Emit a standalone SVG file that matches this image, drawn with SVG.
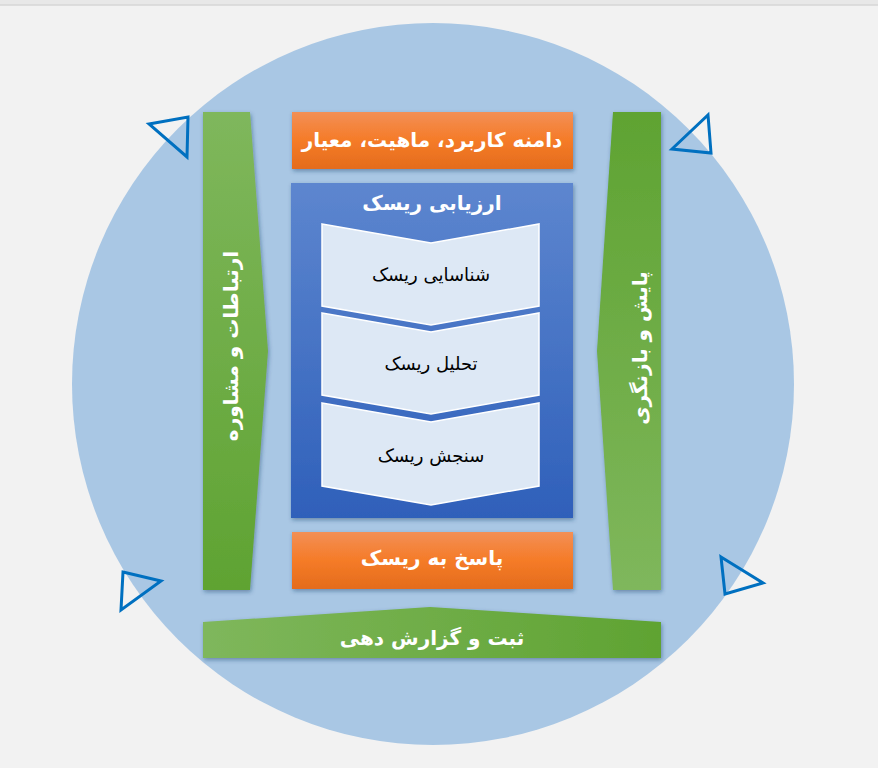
<svg xmlns="http://www.w3.org/2000/svg" width="878" height="768" viewBox="0 0 878 768">
  <defs>
    <linearGradient id="gOrange" x1="0" y1="0" x2="0" y2="1">
      <stop offset="0" stop-color="#f38f55"/>
      <stop offset="0.5" stop-color="#f57b28"/>
      <stop offset="1" stop-color="#e46c1b"/>
    </linearGradient>
    <linearGradient id="gBlue" x1="0" y1="0" x2="0" y2="1">
      <stop offset="0" stop-color="#5d86cf"/>
      <stop offset="1" stop-color="#2f60ba"/>
    </linearGradient>
    <linearGradient id="gGreenDown" x1="0" y1="0" x2="0" y2="1">
      <stop offset="0" stop-color="#7fb75c"/>
      <stop offset="1" stop-color="#5fa332"/>
    </linearGradient>
    <linearGradient id="gGreenUp" x1="0" y1="1" x2="0" y2="0">
      <stop offset="0" stop-color="#7fb75c"/>
      <stop offset="1" stop-color="#5fa332"/>
    </linearGradient>
    <linearGradient id="gGreenRight" x1="0" y1="0" x2="1" y2="0">
      <stop offset="0" stop-color="#7fb75c"/>
      <stop offset="1" stop-color="#5fa332"/>
    </linearGradient>
    <filter id="shadow" x="-20%" y="-20%" width="140%" height="140%">
      <feDropShadow dx="1" dy="2" stdDeviation="2" flood-color="#1f3c66" flood-opacity="0.45"/>
    </filter>
  </defs>
  <style>
    .tw { font-family: "DejaVu Sans", sans-serif; font-weight: bold; fill: #ffffff; text-anchor: middle; dominant-baseline: central; font-size: 20px; }
    .tb { font-family: "DejaVu Sans", sans-serif; fill: #000000; text-anchor: middle; dominant-baseline: central; font-size: 18px; }
    .chev { fill: #dde8f5; stroke: #ffffff; stroke-width: 1.5; }
    .tri { fill: none; stroke: #0070c0; stroke-width: 3; stroke-linejoin: miter; }
  </style>

  <rect x="0" y="0" width="878" height="768" fill="#f2f2f2"/>
  <rect x="0" y="0" width="878" height="4.5" fill="#e8e8e8"/>
  <line x1="0" y1="5" x2="878" y2="5" stroke="#c8c8c8" stroke-width="1"/>

  <circle id="background-circle" cx="433" cy="384" r="361" fill="#a9c7e4"/>

  <g id="triangles">
    <polygon class="tri" points="149,124 188,117 187,157"/>
    <polygon class="tri" points="672,149 708,115 711,153"/>
    <polygon class="tri" points="123,572 161,581 121,610"/>
    <polygon class="tri" points="721,557 763,583 725,594"/>
  </g>

  <g id="node-communication">
    <polygon points="203,112 250,112 268,351 250,590 203,590" fill="url(#gGreenDown)" filter="url(#shadow)"/>
    <text class="tw" transform="translate(231,346) rotate(-90)">ارتباطات و مشاوره</text>
  </g>

  <g id="node-monitoring">
    <polygon points="613,112 661,112 661,590 613,590 597,351" fill="url(#gGreenUp)" filter="url(#shadow)"/>
    <text class="tw" transform="translate(640,348) rotate(-90)">پایش و بازنگری</text>
  </g>

  <g id="node-scope">
    <rect x="292" y="112" width="281" height="57" fill="url(#gOrange)" filter="url(#shadow)"/>
    <text class="tw" x="432" y="140">دامنه کاربرد، ماهیت، معیار</text>
  </g>

  <g id="node-assessment">
    <rect x="291" y="183" width="282" height="335" fill="url(#gBlue)" filter="url(#shadow)"/>
    <text class="tw" x="432" y="203">ارزیابی ریسک</text>
  </g>

  <g id="node-identification">
    <polygon class="chev" points="322,224 431,243 539,224 539,306 431,325 322,306"/>
    <text class="tb" x="431" y="274">شناسایی ریسک</text>
  </g>

  <g id="node-analysis">
    <polygon class="chev" points="322,313 431,332 539,313 539,395 431,414 322,395"/>
    <text class="tb" x="431" y="363">تحلیل ریسک</text>
  </g>

  <g id="node-evaluation">
    <polygon class="chev" points="322,403 431,422 539,403 539,486 431,505 322,486"/>
    <text class="tb" x="431" y="455">سنجش ریسک</text>
  </g>

  <g id="node-response">
    <rect x="292" y="532" width="281" height="57" fill="url(#gOrange)" filter="url(#shadow)"/>
    <text class="tw" x="432" y="558">پاسخ به ریسک</text>
  </g>

  <g id="node-recording">
    <polygon points="203,622 430,607 661,622 661,658 203,658" fill="url(#gGreenRight)" filter="url(#shadow)"/>
    <text class="tw" x="432" y="638">ثبت و گزارش دهی</text>
  </g>

  <g id="connectors"></g>
</svg>
